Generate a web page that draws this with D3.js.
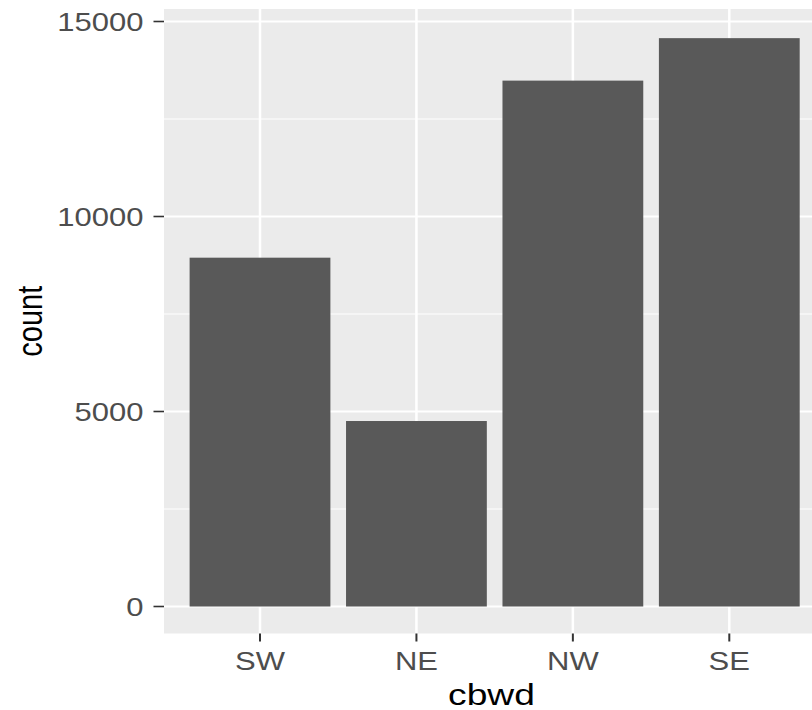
<!DOCTYPE html>
<html>
<head>
<meta charset="utf-8">
<script src="https://cdn.jsdelivr.net/npm/d3@7"></script>
<style>
html,body{margin:0;padding:0;background:#fff;overflow:hidden;}
svg{display:block;}
text{font-family:"Liberation Sans",Arial,Helvetica,sans-serif;}
</style>
</head>
<body>
<svg id="chart" width="812" height="710"></svg>
<script>
const categories = ["SW", "NE", "NW", "SE"];
const counts = [8944, 4756, 13484, 14573];
const yTicks = [0, 5000, 10000, 15000];
const yMinor = [2500, 7500, 12500];
const xTitle = "cbwd";
const yTitle = "count";

const W = 812, H = 710;
const panel = {left: 164, right: 819, top: 9, bottom: 633.5};
const sx = 1.24; // horizontal stretch of the reference image

const svg = d3.select("#chart");

const x = d3.scaleLinear().domain([0, categories.length - 1]).range([260, 729.3]);
const step = x(1) - x(0);
const barW = step * 0.9;
const y = d3.scaleLinear().domain([0, 15000]).range([606.5, 21.5]);

// panel background
svg.append("rect")
  .attr("x", panel.left).attr("y", panel.top)
  .attr("width", panel.right - panel.left).attr("height", panel.bottom - panel.top)
  .attr("fill", "#EBEBEB");

// minor gridlines
svg.append("g").selectAll("line").data(yMinor).join("line")
  .attr("x1", panel.left).attr("x2", panel.right)
  .attr("y1", d => y(d)).attr("y2", d => y(d))
  .attr("stroke", "#fff").attr("stroke-width", 1);

// major gridlines
svg.append("g").selectAll("line").data(yTicks).join("line")
  .attr("x1", panel.left).attr("x2", panel.right)
  .attr("y1", d => y(d)).attr("y2", d => y(d))
  .attr("stroke", "#fff").attr("stroke-width", 2);
svg.append("g").selectAll("line").data(categories).join("line")
  .attr("x1", (d, i) => x(i)).attr("x2", (d, i) => x(i))
  .attr("y1", panel.top).attr("y2", panel.bottom)
  .attr("stroke", "#fff").attr("stroke-width", 2.5);

// bars
svg.append("g").selectAll("rect").data(counts).join("rect")
  .attr("x", (d, i) => x(i) - barW / 2)
  .attr("width", barW)
  .attr("y", d => y(d))
  .attr("height", d => y(0) - y(d))
  .attr("fill", "#595959");

// y axis ticks and labels
const yAx = svg.append("g");
yAx.selectAll("line").data(yTicks).join("line")
  .attr("x1", 153.5).attr("x2", panel.left)
  .attr("y1", d => y(d)).attr("y2", d => y(d))
  .attr("stroke", "#333333").attr("stroke-width", 1.6);
yAx.selectAll("text").data(yTicks).join("text")
  .attr("transform", d => `translate(143.5,${y(d) + 9}) scale(${sx},1)`)
  .attr("text-anchor", "end")
  .attr("font-size", 25)
  .attr("fill", "#4D4D4D")
  .text(d => d);

// x axis ticks and labels
const xAx = svg.append("g");
xAx.selectAll("line").data(categories).join("line")
  .attr("x1", (d, i) => x(i)).attr("x2", (d, i) => x(i))
  .attr("y1", panel.bottom).attr("y2", 641.5)
  .attr("stroke", "#333333").attr("stroke-width", 2);
xAx.selectAll("text").data(categories).join("text")
  .attr("transform", (d, i) => `translate(${x(i)},670) scale(${sx},1)`)
  .attr("text-anchor", "middle")
  .attr("font-size", 25)
  .attr("fill", "#4D4D4D")
  .text(d => d);

// axis titles
svg.append("text")
  .attr("transform", `translate(${(panel.left + panel.right) / 2},705) scale(${sx},1)`)
  .attr("text-anchor", "middle")
  .attr("font-size", 30)
  .attr("fill", "#000")
  .text(xTitle);
svg.append("text")
  .attr("transform", `translate(41.5,${(panel.top + panel.bottom) / 2}) scale(${sx},1) rotate(-90)`)
  .attr("text-anchor", "middle")
  .attr("font-size", 29)
  .attr("fill", "#000")
  .text(yTitle);
</script>
</body>
</html>
